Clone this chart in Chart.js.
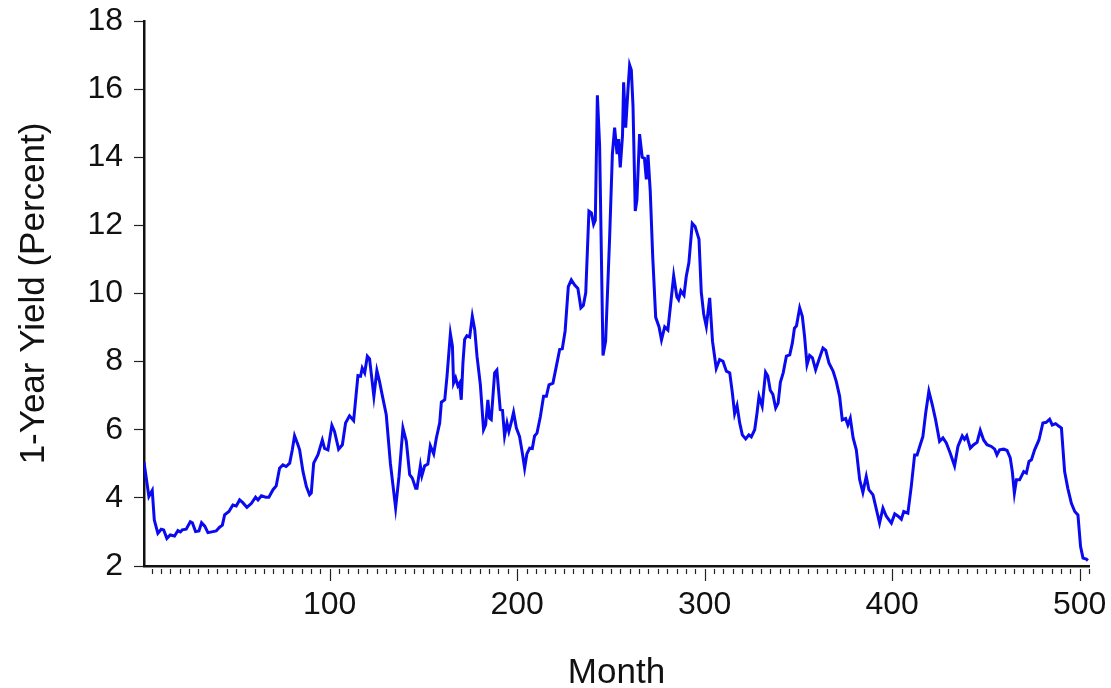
<!DOCTYPE html>
<html>
<head>
<meta charset="utf-8">
<title>1-Year Yield</title>
<script src="https://cdn.jsdelivr.net/npm/chart.js@4.4.1/dist/chart.umd.min.js"></script>
<style>
  html, body { margin: 0; padding: 0; background: #fff; }
  canvas { display: block; }
</style>
</head>
<body>
<canvas id="yieldChart" width="1111" height="688"></canvas>
<script>
// months (x) and 1-year yield in percent (y)
const months = [
  1.0, 3.6, 5.4, 6.5, 8.4, 10.2, 11.5, 13.2, 15.0, 17.3, 19.1, 20.4, 21.4, 23.5, 25.7, 26.8, 28.5, 30.3, 31.7, 33.4,
  35.1, 37.8, 39.5, 41.3, 42.8, 44.0, 46.3, 48.4, 50.2, 52.0, 53.7, 55.9, 58.3, 60.5, 61.8, 63.6, 65.9, 67.6, 69.8, 71.5,
  73.3, 75.1, 76.8, 78.7, 80.1, 81.3, 83.1, 84.0, 85.8, 87.6, 89.3, 90.2, 91.5, 93.8, 96.1, 97.3, 99.1, 101.2, 102.6, 104.8,
  106.8, 108.5, 110.6, 112.8, 115.1, 116.5, 117.4, 118.7, 120.1, 121.3, 123.6, 125.2, 126.6, 128.0, 130.2, 132.4, 135.2, 137.0, 139.1, 140.9,
  142.7, 144.1, 145.9, 146.6, 148.4, 149.2, 150.7, 152.4, 153.7, 155.5, 156.9, 158.7, 159.6, 161.4, 162.6, 164.4, 165.5, 166.1, 167.2, 168.4,
  169.3, 170.2, 171.1, 172.0, 173.2, 174.7, 176.1, 177.4, 178.6, 180.4, 182.1, 183.2, 184.4, 185.3, 186.2, 188.0, 189.2, 191.0, 192.2, 193.3,
  194.6, 195.6, 196.9, 198.1, 199.6, 201.3, 202.8, 204.0, 205.2, 206.7, 208.1, 209.3, 210.6, 212.4, 214.1, 215.6, 217.0, 219.1, 220.9, 222.7,
  224.1, 225.6, 227.3, 228.9, 230.7, 232.4, 234.0, 235.3, 236.6, 238.3, 239.6, 240.8, 241.7, 242.8, 244.0, 245.8, 247.2, 249.3, 250.8, 252.0,
  253.3, 254.1, 255.0, 256.2, 256.8, 257.9, 259.1, 260.0, 260.9, 261.8, 263.0, 263.9, 265.3, 266.7, 267.9, 268.9, 269.8, 271.0, 272.3, 273.9,
  275.7, 277.0, 278.7, 280.4, 281.9, 283.5, 285.2, 286.1, 287.3, 289.0, 290.2, 291.6, 293.4, 294.9, 297.0, 298.2, 299.5, 300.9, 302.7, 304.2,
  305.3, 306.2, 308.0, 309.8, 311.6, 313.4, 314.8, 316.0, 317.3, 318.7, 320.1, 321.9, 323.6, 324.9, 326.7, 327.9, 329.0, 330.7, 332.5, 333.7,
  335.0, 336.4, 337.9, 339.2, 340.4, 341.9, 343.6, 345.4, 346.8, 347.9, 349.0, 350.7, 352.1, 353.3, 354.6, 356.0, 357.5, 359.2, 361.0, 363.1,
  364.6, 366.3, 368.5, 370.2, 372.0, 373.4, 375.2, 376.4, 377.7, 379.2, 380.9, 382.7, 384.4, 386.2, 387.6, 389.8, 393.3, 395.1, 396.9, 399.6,
  401.4, 403.2, 404.9, 406.2, 408.4, 410.2, 412.0, 413.3, 415.0, 416.4, 417.9, 419.6, 421.4, 423.2, 425.3, 427.1, 428.9, 431.0, 433.3, 435.1,
  437.4, 438.6, 439.8, 441.7, 443.5, 445.3, 447.0, 448.8, 450.6, 452.9, 454.7, 455.9, 457.3, 459.5, 461.3, 463.0, 464.1, 465.2, 466.3, 468.0,
  470.2, 471.6, 473.0, 474.3, 476.0, 478.3, 480.4, 482.2, 484.0, 485.4, 487.2, 489.0, 490.3, 492.0, 493.7, 495.6, 497.4, 499.1, 500.5, 501.8,
  503.6, 504.4
];
const yields = [
  5.05, 4.04, 4.22, 3.35, 2.96, 3.08, 3.06, 2.81, 2.91, 2.88, 3.04, 3.00, 3.06, 3.08, 3.30, 3.27, 3.01, 3.03, 3.27, 3.17,
  2.98, 3.01, 3.03, 3.14, 3.20, 3.50, 3.60, 3.79, 3.76, 3.94, 3.86, 3.72, 3.84, 4.02, 3.94, 4.06, 4.02, 4.02, 4.24, 4.35,
  4.87, 4.97, 4.92, 5.02, 5.41, 5.82, 5.56, 5.41, 4.77, 4.33, 4.09, 4.14, 5.02, 5.27, 5.70, 5.45, 5.41, 6.13, 5.95, 5.43,
  5.56, 6.20, 6.41, 6.27, 7.59, 7.57, 7.81, 7.67, 8.16, 8.08, 6.98, 7.74, 7.42, 7.03, 6.44, 5.02, 3.70, 4.63, 6.05, 5.66,
  4.68, 4.58, 4.28, 4.28, 4.94, 4.65, 4.94, 4.99, 5.53, 5.29, 5.75, 6.20, 6.81, 6.88, 7.57, 8.82, 8.45, 7.37, 7.52, 7.29,
  7.37, 6.88, 7.96, 8.65, 8.76, 8.72, 9.33, 8.94, 8.16, 7.32, 6.00, 6.14, 6.88, 6.34, 6.30, 7.67, 7.75, 6.59, 6.57, 5.82,
  6.20, 5.95, 6.22, 6.51, 6.05, 5.80, 5.31, 4.87, 5.29, 5.46, 5.45, 5.82, 5.90, 6.39, 6.98, 6.98, 7.32, 7.37, 7.86, 8.36,
  8.38, 8.90, 10.20, 10.40, 10.25, 10.15, 9.58, 9.65, 10.02, 12.42, 12.37, 12.03, 12.15, 15.82, 14.33, 8.18, 8.60, 11.59, 14.09, 14.87,
  14.09, 14.53, 13.70, 14.63, 16.20, 14.87, 15.97, 16.71, 16.56, 15.51, 12.42, 12.76, 14.68, 14.00, 13.97, 13.35, 14.07, 13.00, 11.10, 9.30,
  9.02, 8.64, 9.02, 8.93, 9.70, 10.52, 9.90, 9.82, 10.08, 9.95, 10.50, 10.90, 12.06, 11.97, 11.59, 10.05, 9.40, 9.03, 9.87, 8.60,
  8.16, 7.80, 8.06, 8.01, 7.72, 7.67, 7.08, 6.47, 6.71, 6.20, 5.85, 5.73, 5.85, 5.79, 6.00, 6.47, 6.98, 6.69, 7.69, 7.58,
  7.16, 7.04, 6.64, 6.78, 7.39, 7.67, 8.16, 8.20, 8.55, 8.98, 9.05, 9.58, 9.33, 8.74, 7.91, 8.18, 8.11, 7.76, 8.06, 8.40,
  8.33, 7.96, 7.72, 7.42, 6.98, 6.29, 6.33, 6.14, 6.34, 5.76, 5.41, 4.53, 4.16, 4.63, 4.24, 4.09, 3.26, 3.70, 3.46, 3.26,
  3.53, 3.46, 3.37, 3.60, 3.55, 4.33, 5.26, 5.26, 5.56, 5.80, 6.49, 7.13, 6.74, 6.29, 5.66, 5.76, 5.61, 5.31, 4.94, 5.51,
  5.82, 5.72, 5.82, 5.46, 5.56, 5.63, 5.98, 5.70, 5.56, 5.51, 5.43, 5.26, 5.41, 5.43, 5.39, 5.17, 4.77, 4.14, 4.53, 4.53,
  4.77, 4.73, 5.07, 5.12, 5.41, 5.70, 6.20, 6.22, 6.31, 6.14, 6.18, 6.10, 6.05, 4.77, 4.28, 3.84, 3.60, 3.50, 2.57, 2.23,
  2.20, 2.16
];

// axis ticks
const xTickLabels = [100, 200, 300, 400, 500];
const xMinorStep = 5;
const yTickLabels = [2, 4, 6, 8, 10, 12, 14, 16, 18];

const fontFamily = '"Liberation Sans", Arial, sans-serif';
const inkColor = '#111';

// small and long tick marks under the x axis
const xTickMarks = {
    id: 'xTickMarks',
    afterDraw(chart) {
        const scale = chart.scales.x;
        const ctx = chart.ctx;
        const top = chart.chartArea.bottom + 3;
        ctx.save();
        ctx.strokeStyle = '#222';
        ctx.lineWidth = 1.2;
        for (let v = xMinorStep; v <= scale.max; v += xMinorStep) {
            const px = Math.round(scale.getPixelForValue(v)) + 0.5;
            const len = xTickLabels.includes(v) ? 12 : 5;
            ctx.beginPath();
            ctx.moveTo(px, top);
            ctx.lineTo(px, top + len);
            ctx.stroke();
        }
        ctx.restore();
    }
};

Chart.defaults.font.family = fontFamily;
Chart.defaults.color = inkColor;

const ctx = document.getElementById('yieldChart').getContext('2d');

new Chart(ctx, {
    type: 'line',
    data: {
        datasets: [{
            data: months.map((m, i) => ({ x: m, y: yields[i] })),
            borderColor: '#0a0af0',
            borderWidth: 3,
            pointRadius: 0,
            tension: 0,
            fill: false
        }]
    },
    options: {
        responsive: false,
        animation: false,
        devicePixelRatio: 1,
        layout: {
            autoPadding: false,
            padding: { top: 21, right: 22, left: 0, bottom: 0 }
        },
        plugins: {
            legend: { display: false },
            tooltip: { enabled: false }
        },
        scales: {
            x: {
                type: 'linear',
                min: 1,
                max: 505,
                afterBuildTicks: scale => { scale.ticks = xTickLabels.map(v => ({ value: v })); },
                afterFit: scale => { scale.height = 122; },
                ticks: {
                    autoSkip: false,
                    maxRotation: 0,
                    padding: 0,
                    color: inkColor,
                    // tall line box puts the label centre about 39px under the axis
                    font: { size: 32, lineHeight: 2.44 }
                },
                grid: { display: false, drawTicks: false },
                border: { display: true, color: inkColor, width: 2.5 },
                title: {
                    display: true,
                    text: 'Month',
                    color: inkColor,
                    font: { size: 35, lineHeight: 1 },
                    padding: { top: 0, bottom: -3 }
                }
            },
            y: {
                min: 2,
                max: 18,
                afterBuildTicks: scale => { scale.ticks = yTickLabels.map(v => ({ value: v })); },
                afterFit: scale => { scale.width = 144; },
                ticks: {
                    padding: 11,
                    color: inkColor,
                    font: { size: 32, lineHeight: 0.6 }
                },
                grid: {
                    display: true,
                    drawOnChartArea: false,
                    drawTicks: true,
                    tickLength: 10,
                    tickWidth: 1.2,
                    tickColor: '#222'
                },
                border: { display: true, color: inkColor, width: 2.5 },
                title: {
                    display: true,
                    text: '1-Year Yield (Percent)',
                    color: inkColor,
                    font: { size: 35, lineHeight: 1 },
                    padding: { top: 17, bottom: 0 }
                }
            }
        }
    },
    plugins: [xTickMarks]
});
</script>
</body>
</html>
